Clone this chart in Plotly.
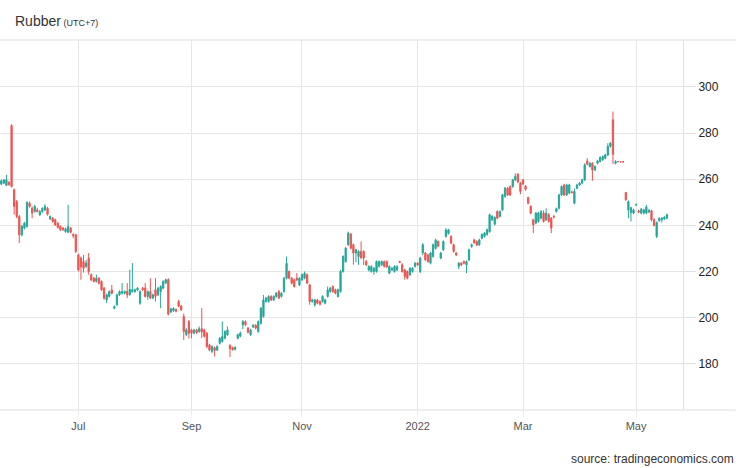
import pandas as pd
import plotly.graph_objects as go

# daily OHLC, one value per weekday from 2021-05-20 to 2022-05-18
opens = [
    257.9, 258.3, 257.3, 258.6, 283.2, 255.4, 250.3, 243.8, 235.9, 238.8,
    239.5, 249.6, 247.4, 246.0, 246.7, 244.6, 246.0, 246.7, 247.4, 242.8,
    243.1, 242.4, 240.9, 239.5, 238.8, 237.3, 237.0, 238.8, 236.0, 235.9,
    227.2, 225.8, 224.3, 222.2, 225.8, 218.6, 217.1, 215.7, 217.1, 215.7,
    212.8, 207.7, 209.2, 212.0, 204.1, 205.6, 209.9, 210.6, 210.6, 211.3,
    210.0, 211.3, 211.3, 212.0, 206.3, 212.8, 212.8, 209.2, 211.3, 208.5,
    212.1, 209.9, 211.3, 212.8, 215.0, 216.5, 202.5, 203.0, 203.5, 207.0,
    205.0, 200.5, 192.6, 198.3, 194.7, 193.3, 194.7, 194.0, 195.2, 194.7,
    193.3, 188.2, 185.3, 187.0, 186.0, 188.9, 189.7, 191.1, 192.6, 188.0,
    187.0, 186.3, 191.1, 192.0, 196.9, 198.3, 195.5, 192.6, 196.0, 196.7,
    194.0, 197.6, 200.5, 207.0, 207.0, 209.2, 207.7, 209.2, 211.3, 209.2,
    211.3, 217.1, 220.0, 217.1, 216.4, 217.1, 214.2, 216.4, 217.1, 218.6,
    214.2, 207.0, 205.6, 207.7, 207.0, 207.0, 206.3, 209.2, 211.3, 213.5,
    212.1, 209.2, 211.3, 220.0, 224.3, 231.6, 236.2, 231.6, 228.0, 226.5,
    228.7, 228.7, 224.3, 220.7, 220.0, 220.0, 220.0, 222.2, 222.9, 224.3,
    224.3, 219.3, 220.7, 220.0, 220.7, 224.4, 222.9, 220.7, 220.0, 218.6,
    220.0, 222.2, 223.6, 220.0, 228.0, 228.0, 227.2, 223.6, 226.5, 230.0,
    233.0, 225.8, 229.4, 235.2, 236.5, 235.2, 231.6, 228.0, 222.2, 223.6,
    224.3, 222.9, 225.0, 230.8, 233.7, 233.0, 231.6, 234.4, 235.2, 236.0,
    237.3, 242.4, 240.5, 246.0, 243.9, 246.7, 252.5, 256.1, 256.8, 256.8,
    259.7, 262.2, 258.3, 259.7, 257.0, 252.0, 248.2, 242.4, 241.0, 241.7,
    243.1, 245.3, 242.4, 244.6, 243.1, 243.8, 246.0, 247.4, 253.2, 257.5,
    253.2, 254.0, 254.5, 249.6, 256.1, 257.5, 258.3, 259.7, 267.9, 265.5,
    266.9, 264.0, 266.9, 267.7, 268.4, 269.1, 270.5, 274.2, 285.7, 266.9,
    267.6, 267.5, 267.5, 254.2, 246.7, 245.5, 245.3, 248.9, 246.3, 245.3,
    245.3, 245.3, 245.8, 246.3, 242.5, 235.2, 242.0, 242.4, 242.8, 243.1,
]
highs = [
    259.8, 260.0, 261.9, 259.2, 283.8, 256.0, 251.0, 244.5, 240.2, 241.5,
    250.3, 250.3, 248.2, 248.9, 247.6, 246.6, 247.8, 249.2, 248.0, 244.3,
    243.6, 242.9, 241.4, 240.0, 239.3, 239.0, 248.9, 239.3, 236.6, 236.4,
    227.8, 226.5, 227.2, 225.0, 228.0, 219.2, 217.6, 218.6, 217.6, 216.2,
    213.3, 210.4, 211.8, 214.2, 205.3, 210.4, 211.8, 215.0, 211.8, 215.0,
    220.7, 223.6, 212.6, 213.3, 211.8, 213.3, 215.0, 211.8, 217.1, 210.4,
    217.1, 213.3, 214.0, 216.2, 216.9, 217.0, 204.3, 204.5, 204.0, 207.7,
    205.5, 201.8, 195.5, 199.0, 195.2, 195.2, 195.2, 196.2, 204.1, 195.2,
    193.8, 188.7, 188.0, 187.5, 188.0, 191.6, 198.3, 194.5, 196.2, 188.5,
    187.5, 187.6, 193.1, 194.0, 199.0, 198.8, 196.0, 195.2, 197.2, 197.2,
    198.8, 204.6, 209.9, 209.0, 209.7, 209.7, 209.7, 211.1, 212.0, 211.1,
    217.6, 226.5, 220.5, 217.6, 216.9, 219.3, 217.6, 219.1, 220.0, 219.1,
    214.7, 208.2, 208.2, 208.2, 207.5, 209.7, 208.2, 213.5, 213.3, 214.0,
    212.6, 212.6, 220.7, 227.0, 230.6, 237.3, 236.7, 232.1, 229.9, 229.2,
    233.0, 229.2, 225.0, 222.7, 222.7, 221.9, 224.8, 224.8, 224.8, 224.8,
    224.8, 222.7, 221.9, 222.7, 222.7, 224.6, 223.6, 221.2, 220.5, 221.9,
    221.9, 224.1, 224.1, 226.3, 232.3, 228.5, 227.7, 228.5, 232.1, 234.2,
    233.5, 228.5, 233.5, 238.8, 238.5, 235.7, 232.1, 228.5, 224.1, 224.1,
    224.8, 224.8, 229.9, 232.1, 234.2, 233.5, 234.2, 236.5, 237.1, 238.6,
    245.1, 244.4, 243.9, 246.5, 246.5, 253.7, 256.6, 256.6, 257.3, 260.2,
    262.5, 262.6, 258.8, 260.2, 257.5, 252.5, 248.7, 242.9, 245.8, 245.8,
    246.5, 246.5, 247.4, 245.3, 243.6, 244.5, 247.7, 253.7, 257.3, 258.0,
    258.0, 258.0, 255.0, 256.0, 258.0, 258.8, 260.2, 266.9, 269.1, 267.4,
    267.4, 266.0, 268.4, 269.9, 270.3, 271.0, 275.6, 276.1, 289.3, 268.2,
    267.8, 267.7, 267.7, 254.5, 250.8, 248.1, 247.2, 249.5, 246.8, 247.5,
    247.2, 248.9, 247.0, 246.8, 243.0, 241.7, 243.5, 243.6, 244.0, 245.0,
]
lows = [
    257.4, 257.8, 257.0, 257.2, 256.4, 244.6, 243.1, 232.3, 235.2, 238.2,
    239.0, 247.6, 243.1, 245.5, 245.6, 244.0, 245.4, 246.2, 244.2, 242.3,
    241.2, 239.7, 238.6, 237.6, 237.6, 236.8, 236.6, 236.5, 234.4, 228.0,
    220.0, 216.4, 219.5, 221.6, 218.6, 215.8, 215.2, 215.2, 214.4, 211.6,
    207.7, 206.3, 208.7, 210.1, 203.6, 205.1, 209.4, 210.1, 210.1, 208.5,
    209.5, 210.8, 210.8, 211.5, 205.6, 211.6, 208.7, 207.7, 208.0, 208.0,
    207.0, 209.4, 204.1, 212.3, 214.5, 201.0, 202.0, 202.5, 202.3, 204.5,
    202.9, 190.4, 192.1, 191.0, 191.1, 192.8, 193.0, 193.5, 191.1, 191.4,
    186.8, 185.5, 184.6, 183.2, 185.5, 188.4, 189.2, 190.6, 192.1, 183.0,
    185.7, 185.8, 190.6, 191.5, 195.0, 196.4, 193.2, 192.1, 195.5, 195.0,
    193.5, 196.9, 200.0, 206.5, 206.5, 207.2, 207.2, 208.7, 208.0, 208.7,
    210.8, 216.6, 216.6, 214.4, 213.0, 215.9, 213.7, 215.9, 216.6, 214.5,
    205.6, 206.5, 204.8, 205.8, 205.3, 206.5, 205.8, 208.7, 210.8, 210.8,
    210.1, 208.7, 210.8, 219.5, 223.8, 231.1, 229.6, 223.0, 224.0, 222.9,
    225.3, 222.9, 222.4, 220.0, 219.5, 218.6, 219.5, 221.7, 222.4, 221.7,
    221.5, 218.8, 220.2, 219.5, 220.2, 223.8, 219.5, 216.4, 216.6, 218.1,
    219.5, 221.7, 222.4, 219.3, 227.0, 224.6, 223.8, 223.1, 226.0, 229.5,
    230.5, 225.3, 228.9, 234.7, 236.0, 231.8, 228.2, 226.7, 221.0, 222.4,
    223.1, 219.3, 224.5, 230.3, 232.0, 231.0, 231.1, 233.9, 234.7, 235.5,
    236.8, 241.9, 240.0, 242.6, 243.4, 246.2, 252.0, 252.7, 252.7, 256.3,
    259.2, 258.3, 253.5, 257.4, 255.0, 249.1, 244.8, 236.6, 240.5, 241.2,
    242.6, 241.2, 241.9, 241.2, 236.6, 243.0, 245.5, 246.9, 252.7, 252.7,
    252.7, 253.5, 253.8, 249.1, 255.6, 257.0, 257.8, 259.2, 266.0, 265.0,
    259.3, 263.5, 266.4, 267.2, 267.9, 268.6, 270.0, 273.7, 266.5, 266.4,
    267.4, 267.3, 267.3, 250.6, 243.1, 241.7, 244.8, 248.3, 245.2, 244.8,
    244.8, 244.8, 245.3, 241.7, 239.5, 234.5, 241.5, 241.2, 242.3, 242.6,
]
closes = [
    259.3, 259.7, 259.7, 257.6, 256.8, 248.2, 243.8, 235.9, 239.5, 240.9,
    250.0, 248.2, 245.3, 248.2, 246.0, 246.0, 247.4, 248.2, 244.8, 243.8,
    241.7, 240.2, 239.1, 238.1, 238.1, 238.5, 239.5, 237.0, 235.5, 228.7,
    220.7, 222.0, 221.4, 223.6, 220.0, 216.4, 215.7, 217.1, 214.9, 212.1,
    208.5, 209.9, 211.3, 210.6, 204.8, 209.9, 211.3, 211.3, 211.3, 209.9,
    212.2, 212.1, 212.1, 212.8, 211.3, 212.1, 209.2, 211.3, 208.5, 209.9,
    209.2, 212.8, 213.5, 215.7, 216.4, 201.5, 203.8, 204.0, 202.8, 205.0,
    203.4, 194.0, 194.7, 193.3, 193.3, 194.7, 193.5, 195.2, 193.8, 191.9,
    187.5, 186.0, 187.5, 185.8, 187.5, 191.1, 191.8, 194.0, 194.7, 186.5,
    186.2, 187.1, 192.6, 193.3, 198.3, 196.9, 193.7, 194.7, 196.7, 195.5,
    198.3, 204.1, 207.7, 208.5, 209.2, 207.7, 209.2, 210.6, 208.5, 210.6,
    217.1, 223.5, 217.1, 214.9, 213.5, 216.4, 217.1, 218.6, 219.3, 215.0,
    207.0, 207.7, 207.7, 206.3, 205.8, 209.2, 207.7, 212.0, 212.8, 211.3,
    210.6, 212.1, 220.0, 226.5, 230.1, 236.6, 230.1, 228.0, 229.4, 228.7,
    226.0, 225.8, 222.9, 222.2, 222.2, 221.4, 224.3, 224.3, 224.3, 222.2,
    222.0, 222.2, 221.4, 222.2, 222.2, 224.0, 220.0, 217.8, 217.1, 221.4,
    221.4, 223.6, 222.9, 225.8, 231.6, 225.1, 224.3, 228.0, 231.6, 233.7,
    231.0, 228.0, 233.0, 238.0, 238.0, 232.3, 228.7, 227.2, 223.6, 222.9,
    223.6, 224.3, 229.4, 231.6, 232.5, 231.5, 233.7, 236.0, 236.6, 238.1,
    244.6, 243.9, 243.4, 243.1, 246.0, 253.2, 256.1, 253.2, 253.2, 259.7,
    261.2, 258.8, 254.7, 257.9, 255.6, 249.6, 245.3, 240.2, 245.3, 245.3,
    246.0, 241.7, 245.3, 241.7, 238.8, 243.6, 247.2, 253.2, 256.8, 253.2,
    257.5, 257.5, 254.2, 254.7, 257.5, 258.3, 259.7, 266.2, 266.5, 266.9,
    264.0, 265.5, 267.9, 269.4, 269.8, 270.5, 274.2, 275.6, 270.8, 267.7,
    267.6, 267.5, 267.5, 251.1, 250.3, 247.6, 246.7, 249.0, 245.7, 247.0,
    246.7, 247.9, 246.5, 242.4, 240.0, 241.2, 243.0, 243.1, 243.5, 244.6,
]
dates = pd.bdate_range("2021-05-20", "2022-05-18")

tick_dates = ["2021-07-01", "2021-09-01", "2021-11-01", "2022-01-03", "2022-03-01", "2022-05-02"]
tick_text = ["Jul", "Sep", "Nov", "2022", "Mar", "May"]
price_ticks = [180, 200, 220, 240, 260, 280, 300]

green = "#26a69a"
red = "#ef5350"
grid = "#e6e6e6"

fig = go.Figure()
fig.add_trace(go.Candlestick(
    x=dates, open=opens, high=highs, low=lows, close=closes,
    increasing=dict(line=dict(color=green, width=1), fillcolor=green),
    decreasing=dict(line=dict(color=red, width=1), fillcolor=red),
    whiskerwidth=0,
    showlegend=False,
))

fig.update_layout(
    width=746, height=468,
    margin=dict(l=0, r=63, t=40, b=58, pad=0),
    paper_bgcolor="white", plot_bgcolor="white",
    font=dict(family="Liberation Sans, Arial, sans-serif", color="#333"),
    xaxis=dict(
        type="date",
        range=["2021-05-19 12:00", "2022-05-26 06:00"],
        rangebreaks=[dict(bounds=["sat", "mon"])],
        rangeslider=dict(visible=False),
        tickvals=tick_dates, ticktext=tick_text,
        showgrid=True, gridcolor=grid, gridwidth=1,
        ticks="outside", ticklen=6, tickcolor="#ececec",
        tickfont=dict(size=11, color="#555"),
        showline=False, zeroline=False,
    ),
    yaxis=dict(
        side="right",
        range=[160, 320.3],
        tickvals=price_ticks,
        showgrid=True, gridcolor=grid, gridwidth=1,
        showline=True, linecolor="#e0e0e0", linewidth=1,
        ticks="outside", ticklen=12, tickcolor="#e0e0e0",
        tickfont=dict(size=12, color="#222"),
        zeroline=False,
    ),
    shapes=[
        dict(type="line", xref="paper", yref="paper", x0=0, x1=1.077, y0=1, y1=1,
             line=dict(color="#dddddd", width=1)),
        dict(type="line", xref="paper", yref="paper", x0=0, x1=1.077, y0=0, y1=0,
             line=dict(color="#dddddd", width=1)),
    ],
    annotations=[
        dict(text="Rubber<span style='font-size:9px'> (UTC+7)</span>",
             xref="paper", yref="paper", x=0.019, y=1.05,
             xanchor="left", yanchor="middle", showarrow=False,
             font=dict(size=14, color="#333")),
        dict(text="source: tradingeconomics.com",
             xref="paper", yref="paper", x=1.077, y=-0.132,
             xanchor="right", yanchor="middle", showarrow=False,
             font=dict(size=12, color="#333")),
    ],
)

# drop the browser's default 8px body margin so the chart sits at the page corner
fig.write_html("out.html", config={"displayModeBar": False},
               post_script="document.body.style.margin='0';")
